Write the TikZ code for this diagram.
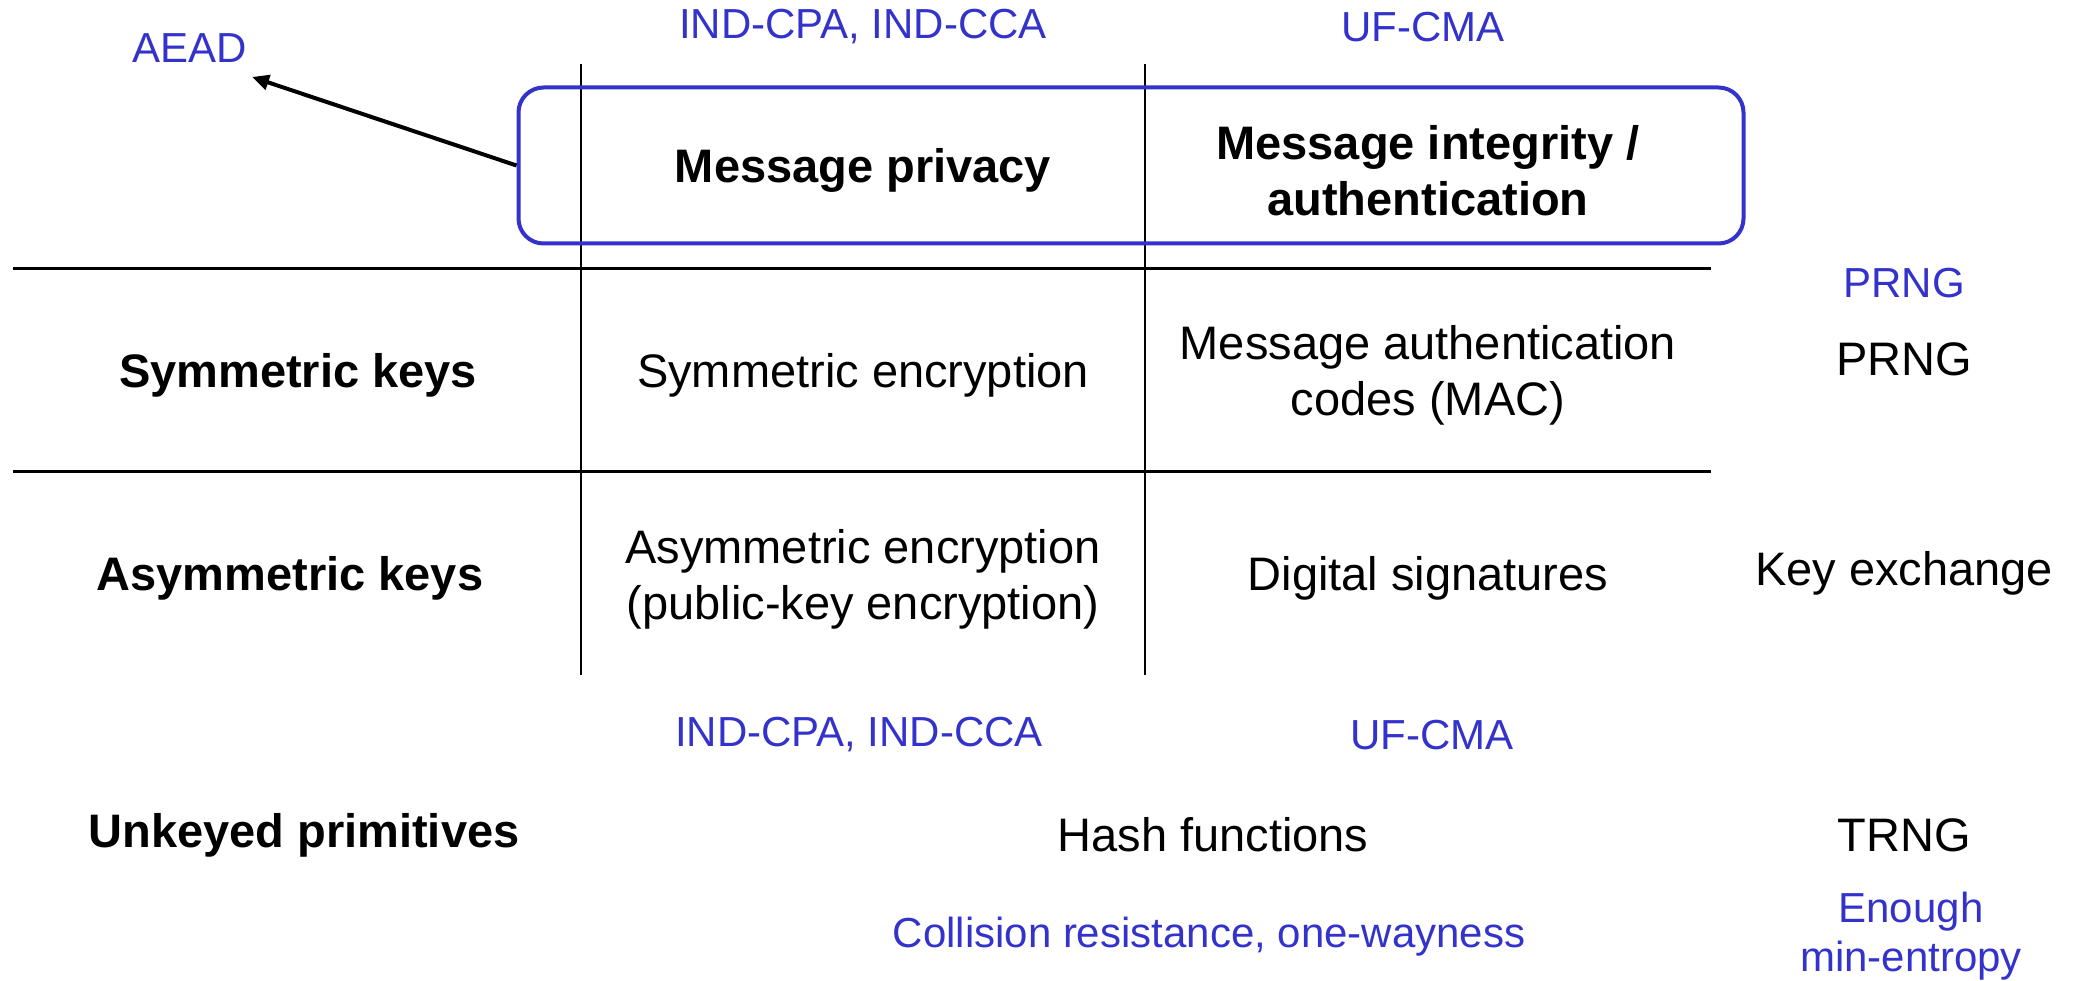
\documentclass[tikz,border=0pt]{standalone}
\usepackage{fontspec}
\setmainfont{Liberation Sans}
\usetikzlibrary{arrows.meta}
\definecolor{lblue}{RGB}{51,51,204}
\tikzset{
  cell/.style={font=\fontsize{47}{56}\selectfont, align=center, inner sep=0pt, text=black},
  head/.style={cell, font=\fontsize{47}{56}\selectfont\bfseries},
  note/.style={font=\fontsize{42}{49}\selectfont, align=center, inner sep=0pt, text=lblue},
  grid/.style={draw=black, line width=3pt},
  vgrid/.style={draw=black, line width=2.6pt},
  hdrbox/.style={draw=lblue, line width=4pt, rounded corners=25pt, minimum width=1225pt, minimum height=156pt, inner sep=0pt}
}
\begin{document}
\begin{tikzpicture}[x=1pt,y=-1pt]
\useasboundingbox (0,0) rectangle (2085,981);
% grid lines
\coordinate (v1t) at (581,64);  \coordinate (v1b) at (581,675);
\coordinate (v2t) at (1145,64); \coordinate (v2b) at (1145,675);
\coordinate (h1l) at (13,269);  \coordinate (h1r) at (1711,269);
\coordinate (h2l) at (13,471);  \coordinate (h2r) at (1711,471);
\draw[vgrid] (v1t) -- (v1b);
\draw[vgrid] (v2t) -- (v2b);
\draw[grid] (h1l) -- (h1r);
\draw[grid] (h2l) -- (h2r);
% header box
\node[hdrbox] (hdr) at (1131,165.5) {};
\coordinate (aeadtip) at (252,77);
\draw[line width=4pt, -{Triangle[length=17pt,width=15pt]}] (hdr.west) -- (aeadtip);
% labels
\node[note] (aead) at (190,48) {AEAD};
\node[note] (indtop) at (863,27) {IND-CPA, IND-CCA};
\node[note] (uftop) at (1423,27) {UF-CMA};
\node[head] (mp) at (863,170) {Message privacy};
\node[head] (mi) at (1428,171) {Message integrity /\\authentication};
\node[note] (prngb) at (1904,283) {PRNG};
\node[head] (sk) at (298,375) {Symmetric keys};
\node[cell] (se) at (863,375) {Symmetric encryption};
\node[cell] (mac) at (1428,375) {Message authentication\\codes (MAC)};
\node[cell] (prng) at (1904,359) {PRNG};
\node[head] (ak) at (290,578) {Asymmetric keys};
\node[cell] (ae) at (863,579) {Asymmetric encryption\\(public-key encryption)};
\node[cell] (ds) at (1428,578) {Digital signatures};
\node[cell] (kx) at (1904,573) {Key exchange};
\node[note] (indbot) at (859,735) {IND-CPA, IND-CCA};
\node[note] (ufbot) at (1432,735) {UF-CMA};
\node[head] (up) at (304,835) {Unkeyed primitives};
\node[cell] (hf) at (1213,835) {Hash functions};
\node[cell] (trng) at (1904,835) {TRNG};
\node[note] (cr) at (1209,937) {Collision resistance, one-wayness};
\node[note] (ent) at (1911,936) {Enough\\min-entropy};
\end{tikzpicture}
\end{document}
